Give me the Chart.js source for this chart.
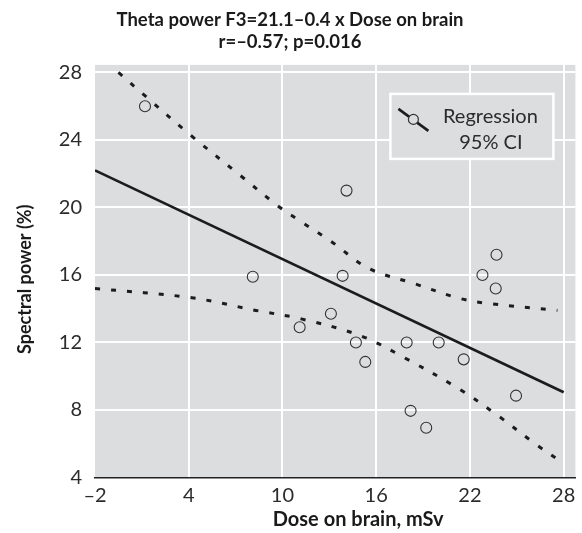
<!DOCTYPE html>
<html lang="en">
<head>
  <meta charset="UTF-8">
  <title>Theta power F3 vs dose on brain</title>
  <style>
    html, body {
      margin: 0;
      padding: 0;
      background: #ffffff;
    }
    .wrap {
      width: 582px;
      height: 533px;
    }
  </style>
</head>
<body>
  <div class="wrap">
    <canvas id="doseChart" width="582" height="533"></canvas>
  </div>

  <script src="https://cdn.jsdelivr.net/npm/chart.js"></script>
  <script>
    // values
    const doseX = [1.2, 8.1, 11.1, 13.1, 14.1, 13.85, 14.7, 15.3, 17.95, 18.2, 19.2, 20.0, 21.6, 22.8, 23.7, 23.65, 24.95];
    const powerY = [26.0, 15.9, 12.9, 13.7, 21.0, 15.95, 12.0, 10.85, 12.0, 7.95, 6.95, 12.0, 11.0, 16.0, 17.2, 15.2, 8.85];

    const regX = [-2, 28];
    const regY = [22.2, 9.05];

    const ciUpperX = [-0.5, 1.1, 4.1, 7.3, 9.7, 11.2, 13.1, 15.5, 18.4, 21.4, 23.3, 27.6];
    const ciUpperY = [28.0, 26.7, 24.3, 21.9, 20.1, 19.15, 18.0, 16.4, 15.5, 14.6, 14.3, 13.9];
    const ciLowerX = [-2, 4.2, 8.3, 11.2, 15.0, 17.8, 21.3, 23.8, 26.2, 27.9];
    const ciLowerY = [15.2, 14.65, 13.9, 13.4, 12.4, 11.1, 9.25, 7.66, 5.98, 4.9];

    const xTickValues = [-2, 4, 10, 16, 22, 28];
    const xTickLabels = ['–2', '4', '10', '16', '22', '28'];
    const yTickValues = [4, 8, 12, 16, 20, 24, 28];
    const yTickLabels = ['4', '8', '12', '16', '20', '24', '28'];

    const titleLines = ['Theta power F3=21.1–0.4 x Dose on brain', 'r=–0.57; p=0.016'];
    const xTitle = 'Dose on brain, mSv';
    const yTitle = 'Spectral power (%)';

    const panelGrey = '#dcdddf';
    const ink = '#1c1c1c';
    const textInk = '#2b2b2b';

    const toPoints = (xs, ys) => xs.map((x, i) => ({ x: x, y: ys[i] }));

    // grey plot background
    const panelBg = {
      id: 'panelBg',
      beforeDraw(chart) {
        const a = chart.chartArea;
        const ctx = chart.ctx;
        ctx.save();
        ctx.fillStyle = panelGrey;
        ctx.fillRect(a.left, a.top, a.right - a.left, a.bottom - a.top);
        ctx.restore();
      }
    };

    // axis titles sit off-centre in the original, so draw them by hand
    const axisTitles = {
      id: 'axisTitles',
      afterDraw(chart) {
        const a = chart.chartArea;
        const ctx = chart.ctx;
        ctx.save();
        ctx.fillStyle = '#1a1a1a';
        ctx.textAlign = 'center';
        ctx.textBaseline = 'middle';
        ctx.font = 'bold 20px Lato';
        ctx.fillText(xTitle, a.left + (a.right - a.left) / 2 + 23, 520);
        ctx.font = 'bold 18px Lato';
        ctx.translate(25, a.top + (a.bottom - a.top) / 2 + 8);
        ctx.rotate(-Math.PI / 2);
        ctx.fillText(yTitle, 0, 0);
        ctx.restore();
      }
    };

    // boxed legend inside the plot, top right
    const boxLegend = {
      id: 'boxLegend',
      afterDatasetsDraw(chart) {
        const a = chart.chartArea;
        const ctx = chart.ctx;
        const ds = chart.data.datasets;
        const w = 163, h = 65;
        const left = a.right - 22 - w;
        const top = a.top + 29;
        ctx.save();
        ctx.fillStyle = panelGrey;
        ctx.fillRect(left, top, w, h);
        ctx.strokeStyle = '#ffffff';
        ctx.lineWidth = 2.5;
        ctx.strokeRect(left, top, w, h);

        // icon: line through an open circle
        ctx.strokeStyle = ink;
        ctx.lineWidth = 2.6;
        ctx.beginPath();
        ctx.moveTo(left + 8, top + 15);
        ctx.lineTo(left + 38, top + 37);
        ctx.stroke();
        ctx.beginPath();
        ctx.arc(left + 23, top + 25.5, 5, 0, Math.PI * 2);
        ctx.fillStyle = panelGrey;
        ctx.fill();
        ctx.lineWidth = 1.2;
        ctx.strokeStyle = '#333';
        ctx.stroke();

        ctx.fillStyle = textInk;
        ctx.font = '20px Lato';
        ctx.textAlign = 'center';
        ctx.textBaseline = 'alphabetic';
        ctx.fillText(ds[1].label, left + 100, top + 29);
        ctx.fillText(ds[2].label, left + 100.5, top + 55);
        ctx.restore();
      }
    };

    const ctx = document.getElementById('doseChart').getContext('2d');
    const chart = new Chart(ctx, {
      type: 'scatter',
      data: {
        datasets: [
          {
            label: 'Points',
            data: toPoints(doseX, powerY),
            pointStyle: 'circle',
            pointRadius: 5.5,
            pointBorderWidth: 1.1,
            borderColor: '#333333',
            backgroundColor: 'rgba(0,0,0,0)',
            showLine: false,
            order: 0
          },
          {
            label: 'Regression',
            data: toPoints(regX, regY),
            showLine: true,
            borderColor: ink,
            borderWidth: 2.7,
            pointRadius: 0,
            order: 1
          },
          {
            label: '95% CI',
            data: toPoints(ciUpperX, ciUpperY),
            showLine: true,
            borderColor: ink,
            borderWidth: 3,
            borderDash: [5, 11],
            tension: 0.35,
            pointRadius: 0,
            order: 2
          },
          {
            label: '95% CI lower',
            data: toPoints(ciLowerX, ciLowerY),
            showLine: true,
            borderColor: ink,
            borderWidth: 3,
            borderDash: [5, 11],
            tension: 0.35,
            pointRadius: 0,
            order: 3
          }
        ]
      },
      options: {
        responsive: false,
        animation: false,
        layout: { padding: { left: 0, right: 2, top: 0, bottom: 0 } },
        plugins: {
          legend: { display: false },
          tooltip: { enabled: false },
          title: {
            display: true,
            text: titleLines,
            color: '#1a1a1a',
            font: { family: 'Lato', size: 18.5, weight: 'bold', lineHeight: 1.2 },
            padding: { top: 9, bottom: 11.5 }
          }
        },
        scales: {
          x: {
            type: 'linear',
            min: -2,
            max: 28.75,
            afterBuildTicks(scale) {
              scale.ticks = xTickValues.map(v => ({ value: v }));
            },
            afterFit(scale) {
              scale.height = 55.5;
            },
            ticks: {
              autoSkip: false,
              maxRotation: 0,
              padding: 6,
              color: textInk,
              font: { family: 'Lato', size: 20, weight: 'normal' },
              callback: (value, index) => xTickLabels[index]
            },
            grid: {
              drawTicks: false,
              lineWidth: 2,
              color: c => (c.tick && c.tick.value === -2 ? 'rgba(0,0,0,0)' : '#ffffff')
            },
            border: { display: true, color: '#222222', width: 1.5 }
          },
          y: {
            type: 'linear',
            min: 4,
            max: 28.45,
            afterBuildTicks(scale) {
              scale.ticks = yTickValues.map(v => ({ value: v }));
            },
            afterFit(scale) {
              scale.width = 95;
            },
            ticks: {
              autoSkip: false,
              padding: 13,
              color: textInk,
              font: { family: 'Lato', size: 20, weight: 'normal' },
              callback: (value, index) => yTickLabels[index]
            },
            grid: {
              drawTicks: false,
              lineWidth: 2,
              color: '#ffffff'
            },
            border: { display: false }
          }
        }
      },
      plugins: [panelBg, axisTitles, boxLegend]
    });
  </script>
</body>
</html>
